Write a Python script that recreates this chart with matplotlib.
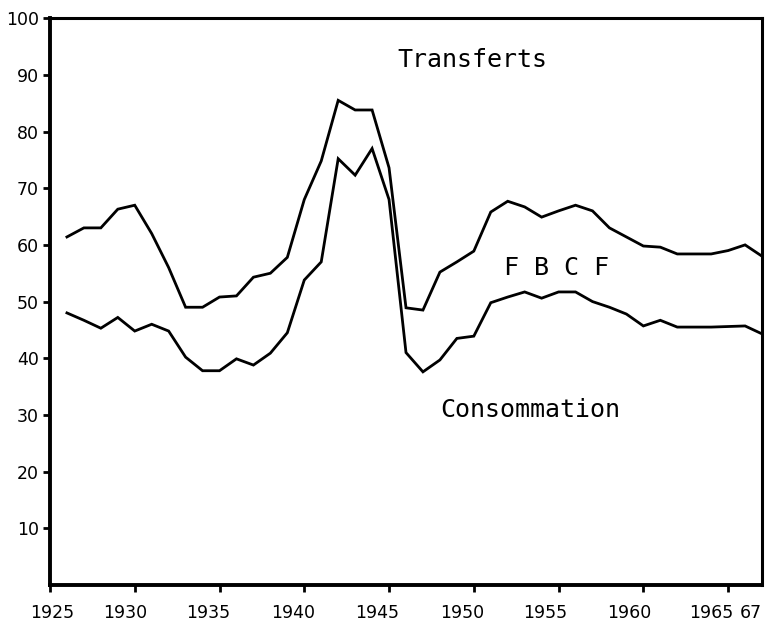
import numpy as np
import matplotlib
matplotlib.use("Agg")
import matplotlib.pyplot as plt
from matplotlib.transforms import ScaledTranslation

# annual series, 1926-1967 (percent)
years = np.arange(1926, 1968)

# upper curve: consommation + FBCF (limit of the "Transferts" band)
upper = [61.4, 63.0, 63.0, 66.3, 67.0, 62.0, 56.0, 49.0, 49.0, 50.8,
         51.0, 54.3, 55.0, 57.8, 68.0, 74.8, 85.5, 83.8, 83.8, 73.6,
         48.9, 48.5, 55.2, 57.0, 58.9, 65.8, 67.7, 66.7, 64.9, 66.0,
         67.0, 66.0, 63.0, 61.4, 59.8, 59.6, 58.4, 58.4, 58.4, 59.0,
         60.0, 58.0]

# lower curve: consommation
lower = [48.0, 46.7, 45.3, 47.2, 44.8, 46.0, 44.8, 40.2, 37.8, 37.8,
         39.9, 38.8, 40.9, 44.5, 53.8, 57.0, 75.2, 72.3, 77.0, 68.0,
         41.0, 37.6, 39.7, 43.5, 43.9, 49.8, 50.8, 51.7, 50.6, 51.7,
         51.7, 50.0, 49.0, 47.8, 45.7, 46.7, 45.5, 45.5, 45.5, 45.6,
         45.7, 44.3]

xticks = [1925, 1930, 1935, 1940, 1945, 1950, 1955, 1960, 1965, 1967]
xticklabels = ["1925", "1930", "1935", "1940", "1945", "1950", "1955",
               "1960", "1965", "67"]
yticks = [10, 20, 30, 40, 50, 60, 70, 80, 90, 100]

# horizontal nudges (pixels) of the year labels relative to their ticks
label_dx = [2, -10, -11, -11, -12, -12, -13, -14, -17, -11]

fig = plt.figure(figsize=(7.76, 6.26), dpi=100)
ax = fig.add_axes([0.0644, 0.0655, 0.9176, 0.9055])

ax.plot(years, upper, color="black", lw=2.0, solid_joinstyle="miter")
ax.plot(years, lower, color="black", lw=2.0, solid_joinstyle="miter")

ax.set_xlim(1925, 1967)
ax.set_ylim(0, 100)

ax.set_xticks(xticks)
ax.set_xticklabels(xticklabels)
ax.set_yticks(yticks)
ax.set_yticklabels([str(v) for v in yticks])
ax.tick_params(direction="out", length=5, width=2, labelsize=12.5, pad=3)
ax.tick_params(axis="x", pad=9)

# last label (67) sits under the right frame without a tick mark
ax.xaxis.get_major_ticks()[-1].tick1line.set_visible(False)

for lab, dx in zip(ax.get_xticklabels(), label_dx):
    lab.set_transform(lab.get_transform()
                      + ScaledTranslation(dx / 100.0, 0, fig.dpi_scale_trans))

for side in ["left", "bottom"]:
    ax.spines[side].set_linewidth(2.8)
for side in ["top", "right"]:
    ax.spines[side].set_linewidth(2.2)

mono = "DejaVu Sans Mono"
ax.text(1949.9, 92.6, "Transferts", ha="center", va="center",
        fontsize=18, family=mono)
ax.text(1954.9, 56.0, "F B C F", ha="center", va="center",
        fontsize=18, family=mono)
ax.text(1953.3, 30.9, "Consommation", ha="center", va="center",
        fontsize=18, family=mono)

fig.savefig("out.png", dpi=100)
